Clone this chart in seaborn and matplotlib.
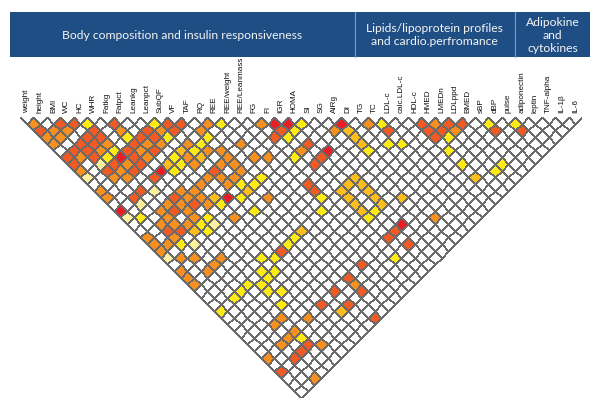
import numpy as np
import pandas as pd
import seaborn as sns
import matplotlib
matplotlib.use("Agg")
from matplotlib import pyplot as plt
from matplotlib.patches import Rectangle
from matplotlib.transforms import Affine2D

variables = ["weight", "height", "BMI", "WC", "HC", "WHR", "Fatkg", "Fatpct", "Leankg",
             "Leanpct", "SubQF", "VF", "TAF", "RQ", "REE", "REE/weight", "REE/Leanmass",
             "FG", "FI", "IGR", "HOMA", "SI", "SG", "AIRg", "DI", "TG", "TC", "LDL-c",
             "calc.LDL-c", "HDL-c", "HMED", "LMEDn", "LDLppd", "BMED", "sBP", "dBP", "pulse",
             "adiponectin", "leptin", "TNF-alpha", "IL-1\u03b2", "IL-6"]

# significant pairs: (column index, row index, level 1..6)
body_pairs = [
    (0, 1, 4), (2, 3, 5), (3, 4, 5), (4, 5, 2), (6, 7, 5), (9, 10, 2), (10, 11, 5), (11, 12, 5), (13, 14, 4),
    (0, 2, 5), (1, 3, 4), (2, 4, 4), (4, 6, 5), (6, 8, 4), (8, 10, 5), (9, 11, 4), (10, 12, 5), (12, 14, 4),
    (0, 3, 4), (1, 4, 4), (3, 6, 5), (4, 7, 5), (6, 9, 2), (7, 10, 5), (8, 11, 5), (9, 12, 2),
    (0, 4, 4), (2, 6, 5), (3, 7, 5), (4, 8, 4), (6, 10, 5), (7, 11, 4), (8, 12, 4), (10, 14, 4), (11, 15, 2),
    (1, 6, 5), (2, 7, 5), (3, 8, 4), (4, 9, 2), (5, 10, 5), (6, 11, 4), (7, 12, 5), (9, 14, 3), (10, 15, 2),
    (0, 6, 5), (1, 7, 4), (2, 8, 5), (3, 9, 2), (4, 10, 6), (5, 11, 5), (6, 12, 4), (8, 14, 2), (9, 15, 4),
    (10, 16, 3), (0, 7, 5), (2, 9, 1), (3, 10, 5), (4, 11, 4), (5, 12, 5), (7, 14, 3), (8, 15, 2), (9, 16, 4),
    (0, 8, 4), (2, 10, 5), (3, 11, 4), (4, 12, 5), (6, 14, 6), (7, 15, 2), (0, 9, 1), (2, 11, 4), (3, 12, 4),
    (5, 14, 5), (0, 11, 4), (0, 12, 4), (4, 15, 1), (7, 18, 4), (11, 16, 4), (12, 17, 4),
    (0, 14, 6), (0, 15, 1), (1, 16, 2), (2, 14, 5), (3, 14, 5), (2, 15, 1),
]
insulin_pairs = [
    (0, 18, 4), (0, 19, 4), (0, 20, 4), (0, 21, 1), (0, 23, 4), (0, 24, 4), (1, 22, 4), (2, 23, 4),
    (3, 17, 4), (4, 17, 4), (5, 17, 5), (6, 17, 4),
    (2, 18, 4), (3, 18, 4), (4, 18, 5), (5, 18, 4), (6, 18, 4), (8, 18, 4), (9, 18, 4),
    (2, 19, 5), (3, 19, 4), (5, 19, 4), (6, 19, 5), (7, 19, 4),
    (1, 20, 4), (2, 20, 4), (3, 20, 5), (4, 20, 4), (5, 20, 4), (7, 20, 4), (8, 20, 3),
    (2, 21, 2), (4, 21, 3), (5, 21, 2), (6, 21, 2), (8, 21, 2), (9, 21, 6),
    (3, 22, 1), (5, 22, 2), (6, 22, 1), (10, 22, 2), (8, 23, 4), (10, 24, 2), (12, 24, 4),
    (12, 18, 4), (11, 18, 4), (12, 19, 4), (10, 18, 5), (12, 20, 4), (10, 19, 4), (11, 20, 4), (10, 20, 4),
    (11, 21, 2), (12, 22, 2), (11, 22, 3), (13, 22, 2),
    (14, 15, 2), (12, 15, 2), (17, 18, 4), (18, 19, 6), (19, 20, 6), (20, 21, 2), (18, 20, 5),
    (19, 21, 2), (17, 20, 5), (18, 21, 2), (14, 18, 4), (15, 21, 4), (14, 20, 4),
    (23, 24, 6), (22, 24, 4), (19, 23, 5), (18, 23, 4), (17, 23, 2),
]
lipid_pairs = [
    (0, 25, 4), (2, 25, 4), (3, 25, 4), (4, 25, 4), (20, 25, 6), (19, 25, 5), (18, 25, 5),
    (23, 25, 3), (23, 26, 3), (23, 27, 3), (23, 28, 2), (25, 26, 4), (26, 27, 2), (26, 28, 5),
    (25, 29, 2), (26, 30, 2), (16, 26, 5), (16, 27, 5), (16, 28, 2), (15, 29, 2),
    (18, 29, 3), (18, 30, 3), (18, 31, 3), (18, 32, 3), (18, 33, 2), (19, 33, 2), (20, 33, 3),
    (20, 32, 3), (20, 31, 3), (20, 30, 3), (19, 29, 3), (20, 29, 3),
    (29, 30, 5), (30, 31, 4), (31, 32, 5), (32, 33, 5), (29, 31, 5), (30, 32, 5), (31, 33, 4),
    (29, 32, 5), (30, 33, 2), (29, 34, 2), (34, 35, 2), (34, 36, 5), (29, 36, 2), (22, 34, 3),
    (0, 29, 2), (2, 29, 2), (3, 29, 2), (4, 29, 2), (6, 29, 2), (7, 28, 2), (8, 29, 2), (9, 29, 5),
    (10, 29, 2), (11, 29, 2), (12, 29, 3), (5, 30, 2), (6, 30, 2), (7, 30, 2), (5, 31, 2),
    (6, 32, 2), (5, 33, 2), (3, 34, 4), (4, 34, 4),
]
adipo_pairs = [
    (36, 37, 2), (36, 38, 5), (32, 39, 2), (31, 39, 2), (29, 38, 3),
    (0, 36, 4), (2, 36, 4), (3, 36, 4), (4, 36, 4), (6, 36, 4), (8, 36, 5), (10, 36, 5),
    (12, 36, 5), (14, 36, 5), (18, 36, 5), (19, 36, 5), (20, 36, 6), (4, 37, 2), (12, 37, 4),
    (0, 38, 5), (2, 38, 5), (3, 38, 5), (4, 38, 5), (9, 38, 3), (10, 38, 5), (12, 38, 5),
    (17, 38, 2), (19, 38, 5), (23, 38, 4), (5, 39, 4), (2, 41, 4), (11, 41, 5),
]
level_colors = ["#FFFFFF", "#FAF0A0", "#FFEB14", "#FDBE1B", "#F7901E", "#F15A22", "#EC1C24"]

groups = ["Body composition and insulin responsiveness",
          "Lipids/lipoprotein profiles\nand cardio.perfromance",
          "Adipokine\nand\ncytokines"]
group_starts = [0, 25, 37]

n = len(variables)
levels = np.zeros((n, n))
for c, r, lev in body_pairs + insulin_pairs + lipid_pairs + adipo_pairs:
    levels[r, c] = lev
df = pd.DataFrame(levels, index=variables, columns=variables)
mask = np.triu(np.ones((n, n), dtype=bool), k=1)

fig = plt.figure(figsize=(6, 4.06), dpi=100)
# triangle spans 20..582 px wide, 118..399 px tall
ax = fig.add_axes([20 / 600, 7 / 406, 562 / 600, 281 / 406])
sns.heatmap(df, mask=mask, cmap=level_colors, vmin=0, vmax=6, cbar=False,
            linewidths=0.45, linecolor="#6a6a6a", xticklabels=False, yticklabels=False, ax=ax)

# rotate the lower triangle by 45 degrees so the diagonal lies along the top
mesh = ax.collections[0]
mesh.set_transform(Affine2D(np.array([[1, 1, 0], [1, -1, 0], [0, 0, 1]])) + ax.transData)
ax.set_xlim(0, 2 * n)
ax.set_ylim(-n, 0)
ax.axis("off")

for i, name in enumerate(variables):
    ax.text(2 * i + 1, 0.8, name, rotation=90, ha="center", va="bottom", fontsize=5.9,
            family="Liberation Sans", color="#111111", clip_on=False)

# header band
left, right = -1.5, 2 * n + 1.2
bottom, top = 9.0, 15.7
ax.add_patch(Rectangle((left, bottom), right - left, top - bottom, facecolor="#1F4E85",
                       edgecolor="none", clip_on=False))
edges = [left] + [2 * s for s in group_starts[1:]] + [right]
for x in edges[1:-1]:
    ax.plot([x, x], [bottom, top], color="#7F9CC4", lw=0.8, clip_on=False)
for k, text in enumerate(groups):
    ax.text((edges[k] + edges[k + 1]) / 2, (bottom + top) / 2, text, ha="center", va="center",
            fontsize=8.7, family="Lato", color="#F4F4F4", linespacing=1.2, clip_on=False)

fig.savefig("out.png", dpi=100)
